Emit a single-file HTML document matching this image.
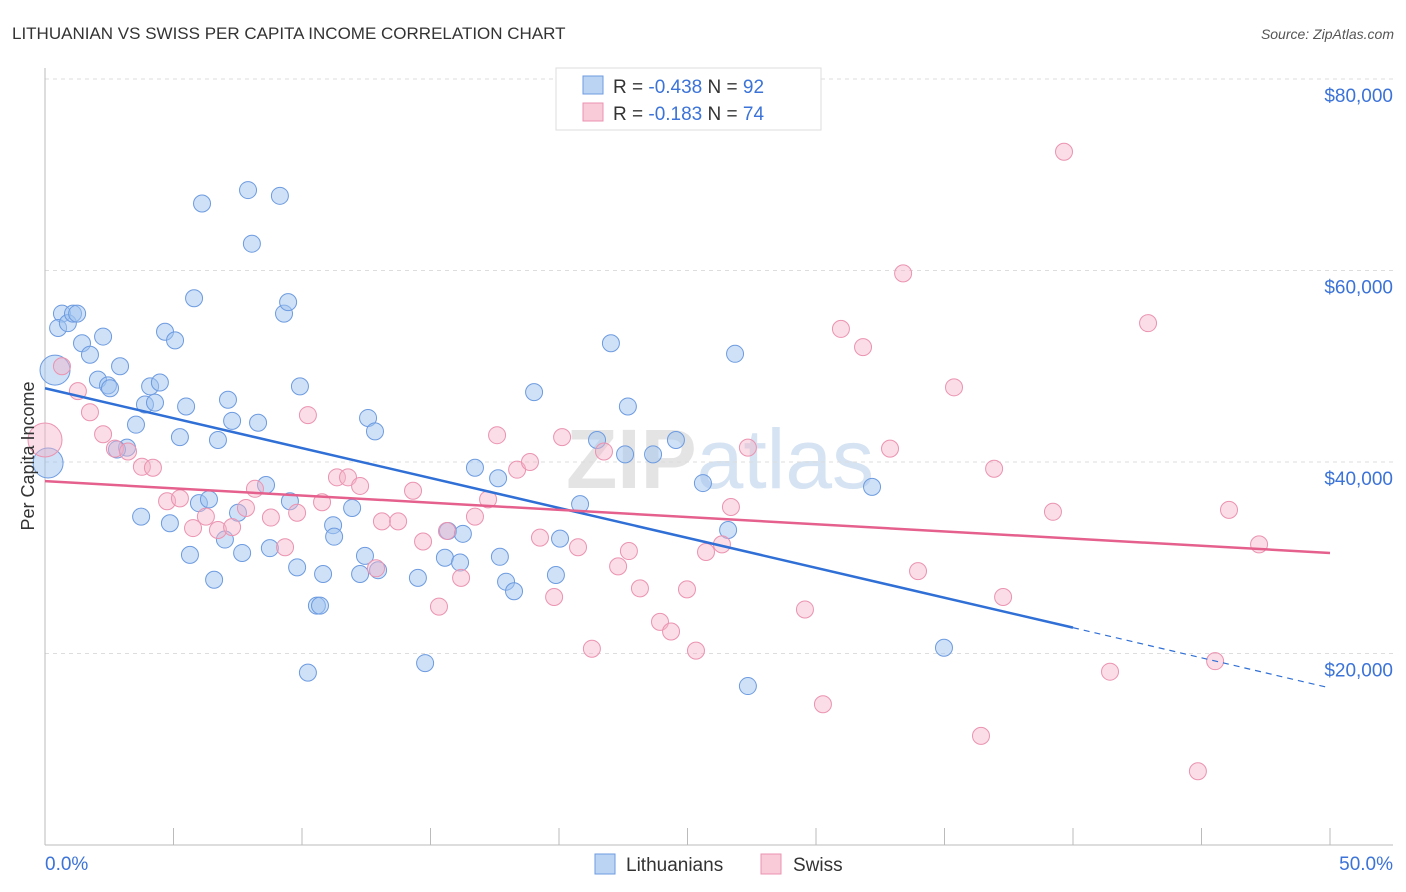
<!DOCTYPE html>
<html><head><meta charset="utf-8"><style>
body{margin:0;background:#fff;font-family:"Liberation Sans",sans-serif}
svg{display:block}
</style></head><body>
<svg id="c" width="1406" height="892">
<text x="12" y="39" font-size="17" fill="#333">LITHUANIAN VS SWISS PER CAPITA INCOME CORRELATION CHART</text>
<text x="1394" y="39" font-size="14" fill="#555" font-style="italic" text-anchor="end">Source: ZipAtlas.com</text>
<text x="720" y="488" font-size="84" font-weight="bold" fill="#e4e4e4" text-anchor="middle">ZIP<tspan fill="#d6e3f3" font-weight="normal">atlas</tspan></text>
<g id="grid"></g><g id="axes"></g><g id="pts"></g><g id="trend"></g>
<text transform="translate(34,456) rotate(-90)" font-size="18" fill="#333" text-anchor="middle">Per Capita Income</text>
<g>
<rect x="556" y="68" width="265" height="62" fill="#fff" stroke="#ddd"/>
<rect x="583" y="76" width="20" height="18" fill="#bcd4f4" stroke="#6d9be0"/>
<rect x="583" y="103" width="20" height="18" fill="#f9cad8" stroke="#eb93b0"/>
<text x="613" y="93" font-size="19" fill="#333">R = <tspan fill="#3b73d8">-0.438</tspan>   N = <tspan fill="#3b73d8">92</tspan></text>
<text x="613" y="120" font-size="19" fill="#333">R =  <tspan fill="#3b73d8"> -0.183</tspan>   N = <tspan fill="#3b73d8">74</tspan></text>
</g>
<g>
<rect x="595" y="854" width="20" height="20" fill="#bcd4f4" stroke="#6d9be0"/>
<text x="626" y="871" font-size="19" fill="#333">Lithuanians</text>
<rect x="761" y="854" width="20" height="20" fill="#f9cad8" stroke="#eb93b0"/>
<text x="793" y="871" font-size="19" fill="#333">Swiss</text>
</g>
</svg>
<script>
const xTickLabels=["0.0%","50.0%"];
const yTicks=[20000,40000,60000,80000];
const yTickLabels=["$20,000","$40,000","$60,000","$80,000"];
const blueX=[0.39,0.12,0.66,0.51,0.89,1.09,1.25,1.44,1.75,2.06,2.26,2.45,2.53,2.92,3.19,2.80,3.54,3.74,3.89,4.09,4.28,4.47,4.67,4.86,5.06,5.25,5.49,5.64,5.80,5.99,6.11,6.38,6.58,6.73,7.00,7.12,7.28,7.51,7.67,7.90,8.05,8.29,8.60,8.75,9.14,9.30,9.46,9.53,9.81,9.92,10.58,10.70,10.82,11.21,11.25,11.95,12.45,12.57,12.84,12.96,12.26,14.51,14.79,15.56,15.68,16.15,16.26,16.73,17.63,17.70,17.94,18.25,19.03,19.88,20.04,20.82,21.48,22.02,22.57,22.68,23.66,24.55,25.60,26.58,26.85,27.35,32.18,34.98,10.23];
const blueY=[49.6,39.9,55.5,54.0,54.5,55.5,55.5,52.4,51.2,48.6,53.1,48.0,47.7,50.0,41.5,41.3,43.9,34.3,46.0,47.9,46.2,48.3,53.6,33.6,52.7,42.6,45.8,30.3,57.1,35.7,67.0,36.1,27.7,42.3,31.9,46.5,44.3,34.7,30.5,68.4,62.8,44.1,37.6,31.0,67.8,55.5,56.7,35.9,29.0,47.9,25.0,25.0,28.3,33.4,32.2,35.2,30.2,44.6,43.2,28.7,28.3,27.9,19.0,30.0,32.8,29.5,32.5,39.4,38.3,30.1,27.5,26.5,47.3,28.2,32.0,35.6,42.3,52.4,40.8,45.8,40.8,42.3,37.8,32.9,51.3,16.6,37.4,20.6,18.0];
const blueBig=[1,1];
const pinkX=[0.0,0.66,1.28,1.75,2.26,2.72,3.23,3.77,4.20,4.75,5.25,5.76,6.26,6.73,7.28,7.82,8.17,8.79,9.34,9.81,10.23,10.78,11.36,11.79,12.26,12.88,13.11,13.74,14.32,14.71,15.33,15.64,16.19,16.73,17.24,17.59,18.37,18.87,19.26,19.81,20.12,20.74,21.28,21.75,22.30,22.72,23.15,23.93,24.36,24.98,25.33,25.72,26.34,26.69,27.35,29.57,30.27,30.97,31.83,32.88,33.39,33.97,35.37,36.42,36.93,37.28,39.22,39.65,41.44,42.92,44.86,45.53,46.07,47.24];
const pinkY=[42.3,50.0,47.4,45.2,42.9,41.4,41.1,39.5,39.4,35.9,36.2,33.1,34.3,32.9,33.2,35.2,37.2,34.2,31.1,34.7,44.9,35.8,38.4,38.4,37.5,28.9,33.8,33.8,37.0,31.7,24.9,32.8,27.9,34.3,36.1,42.8,39.2,40.0,32.1,25.9,42.6,31.1,20.5,41.1,29.1,30.7,26.8,23.3,22.3,26.7,20.3,30.6,31.4,35.3,41.5,24.6,14.7,53.9,52.0,41.4,59.7,28.6,47.8,11.4,39.3,25.9,34.8,72.4,18.1,54.5,7.7,19.2,35.0,31.4];
const blueTrend=[47.7,22.7,16.4]; // at 0%, 40%, 50%
const pinkTrend=[38.0,30.5]; // at 0%, 50%
const NS="http://www.w3.org/2000/svg";
const X=v=>45+v/50*1285;
const Y=v=>845-v*1000/20000*191.5;
function mk(tag,attrs,parent){const e=document.createElementNS(NS,tag);for(const k in attrs)e.setAttribute(k,attrs[k]);parent.appendChild(e);return e;}
const grid=document.getElementById('grid'),axes=document.getElementById('axes'),pts=document.getElementById('pts'),tr=document.getElementById('trend');
yTicks.forEach((t,i)=>{
 const y=Y(t/1000);
 const l=mk('line',{x1:45,x2:1393,y1:y,y2:y,stroke:'#ddd','stroke-dasharray':'4,4'},grid);
 
 
 const tx=mk('text',{x:1393,y:y+23,'font-size':19,fill:'#3b73d8','text-anchor':'end'},axes);
 tx.textContent=yTickLabels[i];
 
 
});
const ax=mk('line',{x1:45,x2:45,y1:68,y2:845,stroke:'#bbb'},axes);


const bx=mk('line',{x1:45,x2:1393,y1:845,y2:845,stroke:'#bbb'},axes);


for(let i=0;i<=10;i++){
 const t=mk('line',{x1:X(i*5),x2:X(i*5),y1:828,y2:845,stroke:'#bbb'},axes);
 
 
}
const l0=mk('text',{x:45,y:870,'font-size':19,fill:'#3b73d8'},axes);l0.textContent=xTickLabels[0];


const l1=mk('text',{x:1393,y:870,'font-size':19,fill:'#3b73d8','text-anchor':'end'},axes);l1.textContent=xTickLabels[1];


blueX.forEach((x,i)=>{
 const c=mk('circle',{cx:X(x),cy:Y(blueY[i]),r:i<2?15:8.5,fill:'rgba(160,196,240,0.5)',stroke:'#6d9be0','stroke-width':1},pts);
 
 
});
pinkX.forEach((x,i)=>{
 const c=mk('circle',{cx:X(x),cy:Y(pinkY[i]),r:i<1?17:8.5,fill:'rgba(245,180,200,0.45)',stroke:'#eb93b0','stroke-width':1},pts);
 
 
});
const b1=mk('line',{x1:X(0),y1:Y(blueTrend[0]),x2:X(40),y2:Y(blueTrend[1]),stroke:'#2f6fd6','stroke-width':2.5},tr);


const b2=mk('line',{x1:X(40),y1:Y(blueTrend[1]),x2:X(50),y2:Y(blueTrend[2]),stroke:'#2f6fd6','stroke-width':1.2,'stroke-dasharray':'6,5'},tr);


const p1=mk('line',{x1:X(0),y1:Y(pinkTrend[0]),x2:X(50),y2:Y(pinkTrend[1]),stroke:'#e5608c','stroke-width':2.5},tr);


</script>
</body></html>
